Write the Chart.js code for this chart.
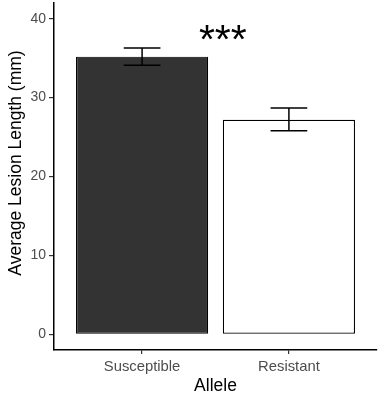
<!DOCTYPE html>
<html lang="en">
<head>
<meta charset="UTF-8">
<title>Average Lesion Length by Allele</title>
<script src="https://cdn.jsdelivr.net/npm/chart.js"></script>
<style>
  html, body { margin: 0; padding: 0; background: #fff; }
  .wrap { width: 383px; height: 395px; }
</style>
</head>
<body>
<div class="wrap"><canvas id="lesionChart"></canvas></div>
<script>
  // values
  const alleles = ["Susceptible", "Resistant"];
  const meanLength = [35.2, 27.2];
  const errLow = [34.1, 25.8];
  const errHigh = [36.3, 28.7];
  const yTicks = [0, 10, 20, 30, 40];
  const sigLabel = "***";
  const sigPos = { x: 1.55, y: 35.6 };
  const yTitle = "Average Lesion Length (mm)";

  const fontFamily = "'Liberation Sans', Arial, sans-serif";

  // error bars, significance stars and the y title, drawn through the chart scales
  const errorBars = {
    id: 'errorBars',
    afterDatasetsDraw(chart) {
      const { ctx, scales: { x, y } } = chart;
      ctx.save();
      ctx.strokeStyle = '#000';
      ctx.lineWidth = 1.5;
      alleles.forEach((a, i) => {
        const px = x.getPixelForValue(i + 1);
        const capHalf = (x.getPixelForValue(1.125) - x.getPixelForValue(1));
        const top = y.getPixelForValue(errHigh[i]);
        const bot = y.getPixelForValue(errLow[i]);
        ctx.beginPath();
        ctx.moveTo(px, top); ctx.lineTo(px, bot);
        ctx.moveTo(px - capHalf, top); ctx.lineTo(px + capHalf, top);
        ctx.moveTo(px - capHalf, bot); ctx.lineTo(px + capHalf, bot);
        ctx.stroke();
      });
      ctx.fillStyle = '#000';
      ctx.font = "41px " + fontFamily;
      ctx.textAlign = 'center';
      ctx.textBaseline = 'alphabetic';
      ctx.fillText(sigLabel, x.getPixelForValue(sigPos.x), y.getPixelForValue(sigPos.y));

      // y axis title, a bit above the panel centre as in the original
      ctx.translate(21, 163);
      ctx.rotate(-Math.PI / 2);
      ctx.font = "17.5px " + fontFamily;
      ctx.fillText(yTitle, 0, 0);
      ctx.restore();
    }
  };

  const ctx = document.getElementById('lesionChart').getContext('2d');
  new Chart(ctx, {
    type: 'bar',
    data: {
      datasets: [{
        data: meanLength.map((v, i) => ({ x: i + 1, y: v })),
        backgroundColor: ['#333333', '#ffffff'],
        borderColor: '#000',
        borderWidth: 1.2,
        borderSkipped: false,
        barPercentage: 0.9,
        categoryPercentage: 1.0
      }]
    },
    options: {
      responsive: true,
      maintainAspectRatio: false,
      animation: false,
      layout: { padding: { top: 3, right: 6, left: 0, bottom: 0 } },
      plugins: { legend: { display: false }, tooltip: { enabled: false } },
      scales: {
        x: {
          type: 'linear',
          min: 0.4,
          max: 2.6,
          offset: false,
          afterBuildTicks: s => { s.ticks = alleles.map((a, i) => ({ value: i + 1 })); },
          afterFit: s => { s.height = 45; },
          ticks: {
            callback: (v) => alleles[v - 1],
            color: '#4d4d4d',
            font: { family: fontFamily, size: 14.8 },
            padding: 4,
            maxRotation: 0
          },
          grid: { display: true, offset: false, drawOnChartArea: false, drawTicks: true, tickLength: 4, color: '#333', lineWidth: 1.2 },
          border: { display: true, color: '#000', width: 1.5 },
          title: { display: true, text: 'Allele', color: '#000', font: { family: fontFamily, size: 17.5, lineHeight: 1 }, padding: { top: 0, bottom: 0 } }
        },
        y: {
          min: -2,
          max: 42,
          afterBuildTicks: s => { s.ticks = yTicks.map(v => ({ value: v })); },
          afterFit: s => { s.width = 54; s.paddingTop = 0; s.paddingBottom = 0; },
          ticks: {
            color: '#4d4d4d',
            font: { family: fontFamily, size: 14 },
            padding: 3
          },
          grid: { display: true, drawOnChartArea: false, drawTicks: true, tickLength: 5, color: '#333', lineWidth: 1.2 },
          border: { display: true, color: '#000', width: 1.5 },
          title: { display: false }
        }
      }
    },
    plugins: [errorBars]
  });
</script>
</body>
</html>
